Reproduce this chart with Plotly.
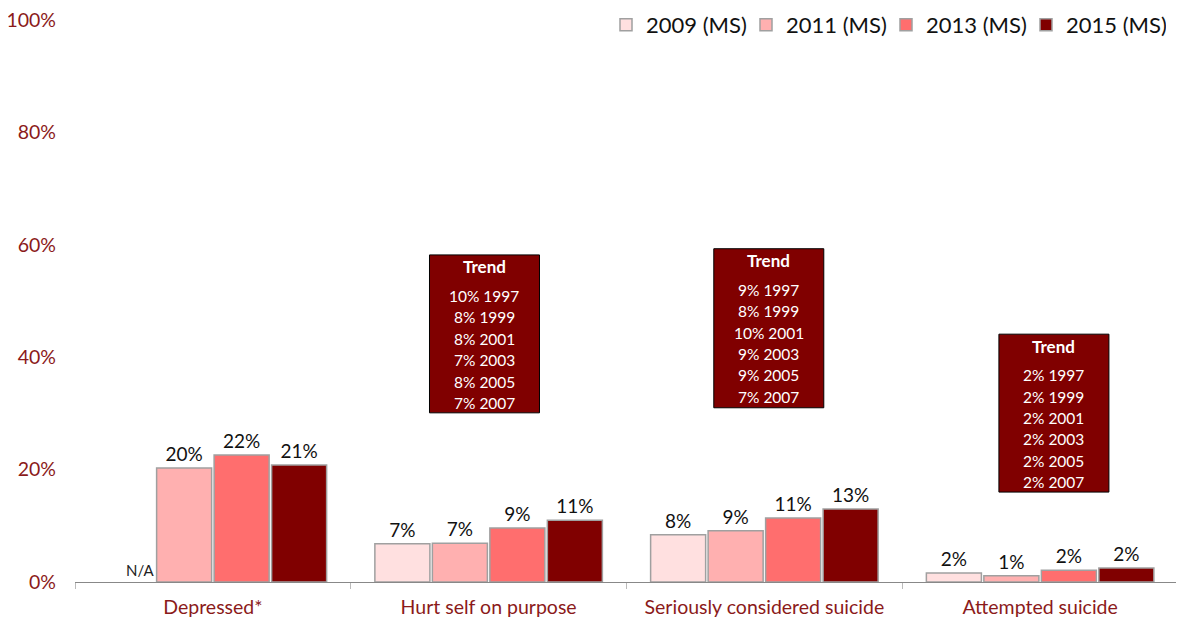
import plotly.graph_objects as go

categories = ["Depressed*", "Hurt self on purpose", "Seriously considered suicide", "Attempted suicide"]
series_names = ["2009 (MS)", "2011 (MS)", "2013 (MS)", "2015 (MS)"]
series_colors = ["#FFE0E0", "#FFB0B0", "#FF6E6E", "#800000"]
v2009 = [None, 6.8, 8.4, 1.6]
v2011 = [20.3, 6.9, 9.1, 1.1]
v2013 = [22.6, 9.6, 11.4, 2.1]
v2015 = [20.8, 11.0, 13.0, 2.5]
l2009 = ["", "7%", "8%", "2%"]
l2011 = ["20%", "7%", "9%", "1%"]
l2013 = ["22%", "9%", "11%", "2%"]
l2015 = ["21%", "11%", "13%", "2%"]

trend_years = ["1997", "1999", "2001", "2003", "2005", "2007"]
trend_hurt = ["10%", "8%", "8%", "7%", "8%", "7%"]
trend_serious = ["9%", "8%", "10%", "9%", "9%", "7%"]
trend_attempted = ["2%", "2%", "2%", "2%", "2%", "2%"]
# box: (category position, top %, bottom %)
trend_boxes = [
    (1 - 0.015, 58.2, 30.1, trend_hurt),
    (2 + 0.016, 59.3, 31.0, trend_serious),
    (3 + 0.05, 44.1, 16.0, trend_attempted),
]

FONT = "Lato"
RED = "#8B1A1A"

fig = go.Figure()
for name, col, vals, labs in zip(series_names, series_colors,
                                 [v2009, v2011, v2013, v2015],
                                 [l2009, l2011, l2013, l2015]):
    fig.add_trace(go.Bar(
        x=categories, y=vals, name=name, text=labs,
        textposition="outside", cliponaxis=False,
        textfont=dict(family=FONT, size=19, color="#111111"),
        marker=dict(color=col, line=dict(color="#A0A0A0", width=1.5)),
    ))

fig.add_annotation(x=categories[0], y=0, xref="x", yref="y", text="N/A",
                   showarrow=False, xshift=-73, yanchor="bottom", yshift=1,
                   font=dict(family=FONT, size=15, color="#222222"))

shapes = []
px_per_cat = 275.75
box_w = 110 / px_per_cat
pct_per_px = 1 / 5.62
for cx, top, bot, vals in trend_boxes:
    shapes.append(dict(type="rect", xref="x", yref="y",
                       x0=cx - box_w / 2, x1=cx + box_w / 2, y0=bot, y1=top,
                       fillcolor="#800000", line=dict(color="#000000", width=1),
                       layer="above"))
    fig.add_annotation(x=cx, y=top - 12 * pct_per_px, xref="x", yref="y",
                       text="<b>Trend</b>", showarrow=False, yanchor="middle",
                       font=dict(family=FONT, size=17, color="white"))
    for i, (v, yr) in enumerate(zip(vals, trend_years)):
        fig.add_annotation(x=cx, y=top - (41 + 21.4 * i) * pct_per_px,
                           xref="x", yref="y", text=f"{v} {yr}",
                           showarrow=False, yanchor="middle",
                           font=dict(family=FONT, size=15.5, color="white"))

fig.update_layout(
    width=1176, height=613,
    margin=dict(l=67, r=6, t=12, b=39, autoexpand=False),
    paper_bgcolor="white", plot_bgcolor="white",
    barmode="group", bargap=0.166, bargroupgap=0.043,
    shapes=shapes,
    legend=dict(orientation="h", x=1 - 12 / 1103, xref="paper", xanchor="right",
                y=1 + 16 / 562, yref="paper", yanchor="top",
                font=dict(family=FONT, size=22, color="#111111"),
                itemwidth=30, entrywidth=95, traceorder="normal"),
    xaxis=dict(showline=True, linecolor="#888888", linewidth=1,
               ticks="outside", tickson="boundaries", ticklen=6,
               tickcolor="#BBBBBB", automargin=False, ticklabelstandoff=8,
               tickfont=dict(family=FONT, size=19.5, color=RED),
               showgrid=False),
    yaxis=dict(range=[0, 100], dtick=20, ticksuffix="%", showgrid=False,
               zeroline=False, showline=False, automargin=False,
               ticklabeloverflow="allow",
               tickfont=dict(family=FONT, size=19.5, color=RED),
               ticklabelstandoff=18),
)

fig.write_html("out.html")
